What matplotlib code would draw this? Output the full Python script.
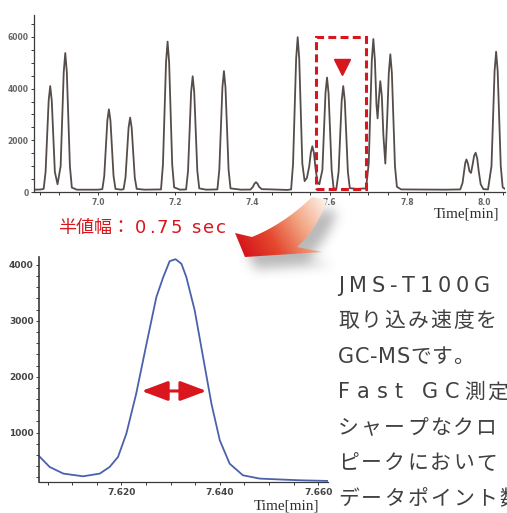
import numpy as np
import matplotlib
matplotlib.use("Agg")
import matplotlib.pyplot as plt
from matplotlib.path import Path
from matplotlib.patches import PathPatch, Rectangle
from matplotlib.colors import LinearSegmentedColormap
from matplotlib.ticker import MultipleLocator, FormatStrFormatter

W, H = 507, 513
RED = '#d9151d'
JP = ['DejaVu Sans', 'Noto Sans CJK JP']

# full chromatogram (top panel), time in min
tic_time = [6.834, 6.850,
            6.859, 6.864, 6.868, 6.872, 6.876, 6.880, 6.884, 6.888, 6.895,
            6.903, 6.907, 6.911, 6.915, 6.919, 6.923, 6.927, 6.932, 6.945,
            7.000, 7.011,
            7.016, 7.020, 7.024, 7.028, 7.032, 7.036, 7.040, 7.045,
            7.060, 7.066,
            7.071, 7.075, 7.079, 7.083, 7.087, 7.091, 7.095, 7.100,
            7.120, 7.163,
            7.168, 7.172, 7.176, 7.180, 7.184, 7.188, 7.192, 7.197,
            7.212, 7.228,
            7.233, 7.237, 7.241, 7.245, 7.249, 7.253, 7.257, 7.262,
            7.280, 7.309,
            7.314, 7.318, 7.322, 7.326, 7.330, 7.334, 7.338, 7.343,
            7.370, 7.395,
            7.401, 7.405, 7.409, 7.413, 7.417, 7.424,
            7.450, 7.490, 7.500,
            7.505, 7.509, 7.513, 7.517, 7.521, 7.525, 7.529, 7.535, 7.541,
            7.547, 7.551, 7.555, 7.559, 7.563, 7.568, 7.573,
            7.581, 7.585, 7.589, 7.593, 7.597, 7.601, 7.605, 7.610, 7.617,
            7.623, 7.627, 7.631, 7.635, 7.639, 7.643, 7.647, 7.652,
            7.670, 7.694,
            7.701, 7.705, 7.709, 7.713, 7.717, 7.721, 7.724,
            7.727, 7.731, 7.735, 7.739, 7.744,
            7.749, 7.753, 7.757, 7.761, 7.765, 7.769, 7.774, 7.785,
            7.900, 7.938,
            7.944, 7.948, 7.951, 7.954, 7.958, 7.962, 7.966,
            7.970, 7.974, 7.978, 7.982, 7.986, 7.991, 7.998,
            8.010,
            8.019, 8.023, 8.027, 8.031, 8.035, 8.039, 8.043, 8.048, 8.054]
tic_int = [90, 95,
           120, 780, 2180, 3540, 4100, 3540, 2180, 780, 300,
           1000, 2850, 4640, 5380, 4640, 2850, 1000, 170, 90,
           90, 110,
           620, 1720, 2770, 3200, 2770, 1720, 620, 120,
           90, 110,
           560, 1550, 2490, 2880, 2490, 1550, 560, 120,
           90, 100,
           1060, 3070, 5020, 5820, 5020, 3070, 1060, 180,
           90, 100,
           820, 2370, 3870, 4480, 3870, 2370, 820, 140,
           90, 100,
           860, 2470, 4040, 4680, 4040, 2470, 860, 140,
           90, 95,
           200, 320, 380, 320, 200, 110,
           100, 80, 100,
           1090, 3160, 5160, 5990, 5160, 3160, 1100, 420, 550,
           1000, 1520, 1770, 1520, 950, 400, 300,
           850, 2340, 3820, 4430, 3820, 2340, 850, 150, 110,
           780, 2180, 3540, 4100, 3540, 2180, 780, 150,
           120, 140,
           1100, 3120, 5100, 5920, 5100, 3400, 2850,
           3550, 4290, 3700, 2200, 1100,
           2900, 4600, 5330, 4600, 2800, 1000, 200, 100,
           90, 100,
           350, 800, 1120, 1260, 1100, 800, 740,
           1050, 1400, 1520, 1300, 800, 300, 110,
           100,
           1000, 2870, 4680, 5430, 4680, 2870, 1000, 180, 120]

# zoomed single peak (bottom panel)
peak_time = [7.6033, 7.6054, 7.6082, 7.6122, 7.6156, 7.6176, 7.6193, 7.6210, 7.6230,
             7.6251, 7.6271, 7.6285, 7.6298, 7.6310, 7.6322, 7.6332, 7.6349, 7.6366,
             7.6383, 7.6400, 7.6420, 7.6447, 7.6481, 7.6528, 7.6562, 7.6620]
peak_int = [577, 387, 268, 220, 268, 387, 565, 982, 1696,
            2589, 3423, 3780, 4065, 4101, 4018, 3780, 3185, 2351,
            1518, 863, 446, 238, 179, 161, 149, 137]

# highlighted region / marker / half width
box_time = (7.565, 7.694)
box_int = (125, 6010)
mark_time, mark_int = 7.632, 4850
fwhm_time = (7.6241, 7.6373)
fwhm_int = 1745

label_jp = '半値幅：'
label_num = '0.75 sec'
body_lines = ['JMS-T100G', '取り込み速度を', 'GC-MSです。', 'Fast GC測定',
              'シャープなクロ', 'ピークにおいて', 'データポイント数']

fig = plt.figure(figsize=(W / 100, H / 100), dpi=100)
fig.patch.set_facecolor('white')


def style_axes(ax, lab_size, lab_col):
    for s in ['top', 'right']:
        ax.spines[s].set_visible(False)
    for s in ['left', 'bottom']:
        ax.spines[s].set_color('#3a3a3a')
        ax.spines[s].set_linewidth(0.9)
    ax.tick_params(which='both', direction='out', length=2.5, width=0.7,
                   colors='#3a3a3a', labelsize=lab_size, labelcolor=lab_col, pad=1.5)
    for lab in ax.get_xticklabels() + ax.get_yticklabels():
        lab.set_fontweight('bold')
        lab.set_family('Liberation Sans Narrow')


# top: full chromatogram
ax1 = fig.add_axes([34 / W, 1 - 192 / H, (505 - 34) / W, (192 - 15) / H])
ax1.plot(tic_time, tic_int, color='#554d4a', lw=1.3)
ax1.set_xlim(6.834, 8.054)
ax1.set_ylim(0, 6850)
ax1.xaxis.set_major_locator(MultipleLocator(0.2))
ax1.xaxis.set_minor_locator(MultipleLocator(0.05))
ax1.xaxis.set_major_formatter(FormatStrFormatter('%.1f'))
ax1.yaxis.set_major_locator(MultipleLocator(2000))
ax1.yaxis.set_minor_locator(MultipleLocator(500))
style_axes(ax1, 5.5, '#666666')

ax1.add_patch(Rectangle((box_time[0], box_int[0]), box_time[1] - box_time[0],
                        box_int[1] - box_int[0], fill=False, edgecolor=RED,
                        lw=2.2, linestyle=(0, (2.6, 1.4)), clip_on=False, zorder=4))
ax1.plot([mark_time], [mark_int], marker='v', color=RED, markersize=12, zorder=5)

# bottom: zoomed peak
ax2 = fig.add_axes([39.3 / W, 1 - 482 / H, (328 - 39.3) / W, (482 - 257) / H])
ax2.plot(peak_time, peak_int, color='#4a62ab', lw=1.3)
ax2.set_xlim(7.6033, 7.6620)
ax2.set_ylim(118, 4140)
ax2.xaxis.set_major_locator(MultipleLocator(0.02))
ax2.xaxis.set_minor_locator(MultipleLocator(0.005))
ax2.xaxis.set_major_formatter(FormatStrFormatter('%.3f'))
ax2.yaxis.set_major_locator(MultipleLocator(1000))
ax2.yaxis.set_minor_locator(MultipleLocator(200))
style_axes(ax2, 6.5, '#444444')
ax2.spines['left'].set_linewidth(1.2)
ax2.annotate('', xy=(fwhm_time[1], fwhm_int), xytext=(fwhm_time[0], fwhm_int),
             arrowprops=dict(arrowstyle='<|-|>,head_length=1.6,head_width=0.6',
                             mutation_scale=10, color=RED, lw=2.2,
                             shrinkA=0, shrinkB=0))

# overlay in pixel coordinates for the decorations and text
ov = fig.add_axes([0, 0, 1, 1])
ov.set_xlim(0, W)
ov.set_ylim(H, 0)
ov.axis('off')
ov.patch.set_alpha(0)


def qbez(p0, p1, p2, n=24):
    s = np.linspace(0, 1, n)[:, None]
    p0, p1, p2 = map(np.asarray, (p0, p1, p2))
    return (1 - s) ** 2 * p0 + 2 * (1 - s) * s * p1 + s ** 2 * p2


verts = np.vstack([[[312, 197]], qbez((327, 200), (317, 229), (297, 247)),
                   [[322, 252], [245, 257], [235, 233]],
                   qbez((252, 237), (284, 224), (312, 197))])
arrow_path = Path(verts, closed=True)

# soft drop shadow
gx, gy = np.meshgrid(np.arange(200, 390) + 0.5, np.arange(185, 310) + 0.5)
pts = np.column_stack([gx.ravel(), gy.ravel()])
mask = Path(verts + [10, 12]).contains_points(pts).reshape(gx.shape).astype(float)
k = np.ones(11) / 11
for _ in range(3):
    mask = np.apply_along_axis(lambda r: np.convolve(r, k, mode='same'), 1, mask)
    mask = np.apply_along_axis(lambda c: np.convolve(c, k, mode='same'), 0, mask)
shadow = np.zeros(gx.shape + (4,))
shadow[..., :3] = 0.45
shadow[..., 3] = mask * 0.5
ov.imshow(shadow, extent=(200, 390, 310, 185), origin='upper', zorder=1,
          interpolation='bilinear')

# gradient filled arrow
d = np.array([240 - 324, 250 - 199], float)
proj = ((gx - 324) * d[0] + (gy - 199) * d[1]) / (d @ d)
cmap = LinearSegmentedColormap.from_list('arr', ['#fdf0e8', '#f2a683', '#e4482e', '#d5121b'])
patch = PathPatch(arrow_path, facecolor='none', edgecolor='none')
ov.add_patch(patch)
im = ov.imshow(np.clip(proj, 0, 1), cmap=cmap, vmin=0, vmax=1,
               extent=(200, 390, 310, 185), origin='upper', zorder=2)
im.set_clip_path(patch)

ov.set_xlim(0, W)
ov.set_ylim(H, 0)

renderer = fig.canvas.get_renderer()


def spaced(x, y, s, gap, size, color, space=5.0):
    for ch in s:
        if ch == ' ':
            x += space + gap
            continue
        t = ov.text(x, y, ch, ha='left', va='baseline', fontsize=size,
                    color=color, family=JP, zorder=6)
        x += t.get_window_extent(renderer).width + gap
    return x


ov.text(58, 233, label_jp, ha='left', va='baseline', fontsize=13, color=RED,
        family=JP, zorder=6)
spaced(135, 233, label_num, 2.4, 13, RED, space=4)

TXT = '#404040'
base_y = [291.7, 327.2, 362.7, 398.2, 433.7, 469.2, 504.7]
gaps = [4.8, 2.2, 0.6, None, 2.2, 2.2, 2.2]
for line, y, g in zip(body_lines, base_y, gaps):
    if g is None:
        x = spaced(338, y, line[:7], 7.0, 15, TXT, space=5)
        spaced(x - 2, y, line[7:], 2.2, 15, TXT)
    else:
        spaced(338, y, line, g, 15, TXT)

ov.text(466, 214, 'Time[min]', ha='center', va='center', fontsize=11,
        family='Liberation Serif', color='#2e2e2e')
ov.text(287, 506, 'Time[min]', ha='center', va='center', fontsize=11,
        family='Liberation Serif', color='#2e2e2e')

fig.savefig('out.png', dpi=100)
